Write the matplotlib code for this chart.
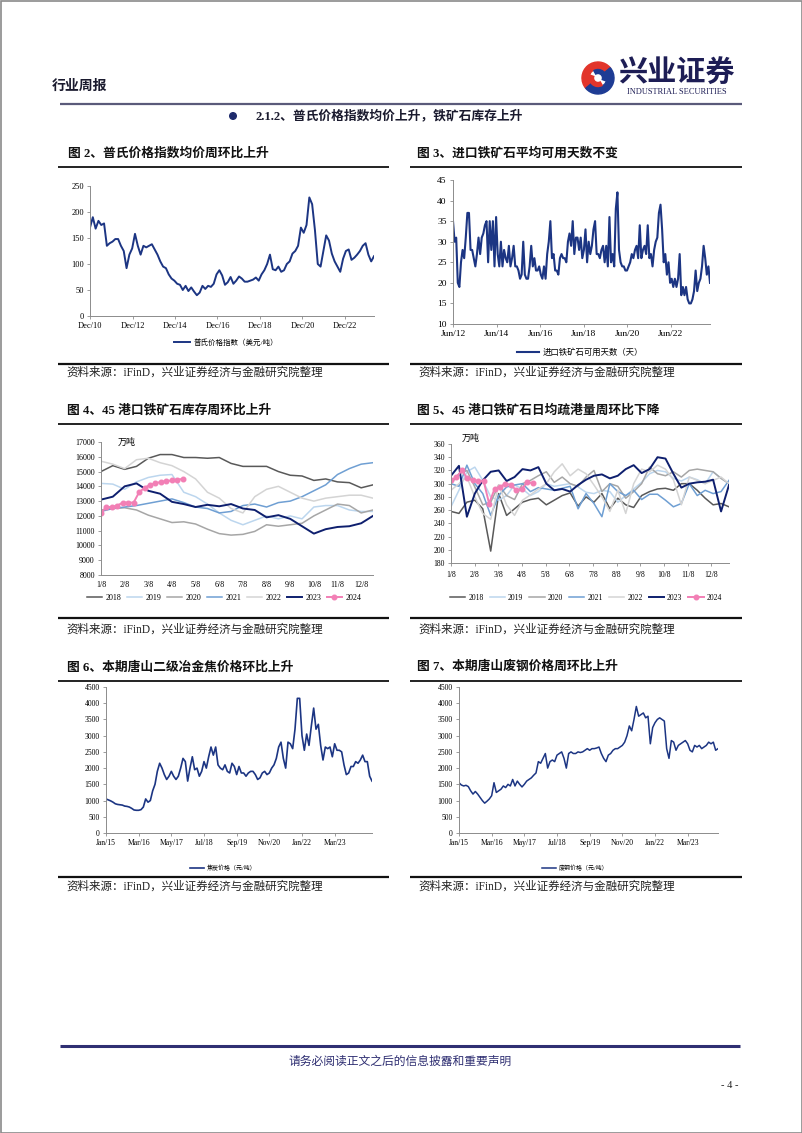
import numpy as np
import pandas as pd
import matplotlib
matplotlib.use("Agg")
import matplotlib.pyplot as plt
from matplotlib.patches import Wedge, Circle, Rectangle

plt.rcParams["font.family"] = ["Liberation Serif", "Noto Sans CJK SC"]
plt.rcParams["axes.unicode_minus"] = False

# ---- 图2 普氏价格指数 (美元/吨), Dec 2010 - Apr 2024
platts = [170, 190, 168, 183, 175, 178, 135, 140, 143, 148, 148, 135, 125, 92, 118, 130,
          158, 135, 118, 135, 132, 135, 138, 128, 118, 105, 95, 92, 80, 72, 68, 62, 60,
          50, 58, 48, 55, 47, 40, 45, 58, 52, 58, 56, 62, 80, 88, 78, 60, 65, 75, 62, 68,
          76, 72, 66, 66, 68, 70, 74, 68, 80, 88, 100, 118, 90, 88, 95, 85, 88, 100, 105,
          120, 125, 135, 170, 160, 175, 228, 215, 165, 100, 95, 125, 155, 145, 120, 105,
          95, 85, 110, 125, 128, 108, 112, 118, 125, 135, 140, 118, 105, 115]
platts_dates = pd.date_range("2010-12-01", "2024-04-15", periods=len(platts))
platts_ticks = ["Dec/10", "Dec/12", "Dec/14", "Dec/16", "Dec/18", "Dec/20", "Dec/22"]
platts_tick_dates = pd.to_datetime(["2010-12-01", "2012-12-01", "2014-12-01", "2016-12-01",
                                    "2018-12-01", "2020-12-01", "2022-12-01"])

# ---- 图3 进口铁矿石可用天数 (天), Jun 2012 - Mar 2024
days = [35, 30, 31, 20, 19, 25, 28, 26, 31, 37, 37, 28, 28, 26, 24, 27, 31, 27, 31, 32,
        34, 35, 25, 35, 28, 35, 24, 36, 27, 24, 30, 24, 28, 26, 25, 29, 24, 26, 29, 24,
        24, 23, 21, 22, 30, 22, 21, 21, 24, 29, 24, 26, 23, 23, 24, 22, 21, 24, 21, 27,
        30, 35, 26, 27, 23, 23, 22, 26, 27, 26, 26, 25, 30, 32, 29, 35, 27, 31, 31, 28,
        31, 26, 28, 33, 25, 30, 27, 29, 33, 35, 27, 27, 26, 28, 29, 25, 29, 24, 36, 25,
        27, 24, 38, 42, 28, 25, 24, 24, 23, 23, 24, 25, 27, 26, 28, 29, 26, 34, 26, 28,
        29, 27, 34, 26, 27, 24, 28, 30, 31, 37, 39, 33, 25, 27, 22, 25, 20, 21, 19, 21,
        19, 21, 27, 17, 19, 17, 19, 16, 15, 15, 16, 18, 23, 18, 20, 21, 24, 29, 26, 22,
        24, 20]
days_dates = pd.date_range("2012-06-01", "2024-03-20", periods=len(days))
days_ticks = ["Jun/12", "Jun/14", "Jun/16", "Jun/18", "Jun/20", "Jun/22"]
days_tick_dates = pd.to_datetime(["2012-06-01", "2014-06-01", "2016-06-01", "2018-06-01",
                                  "2020-06-01", "2022-06-01"])

# ---- 图4 45港口铁矿石库存 (万吨), half-month steps from 1/8
month_labels = ["1/8", "2/8", "3/8", "4/8", "5/8", "6/8", "7/8", "8/8", "9/8", "10/8", "11/8", "12/8"]
years = ["2018", "2019", "2020", "2021", "2022", "2023", "2024"]
stock_2018 = [15000, 15400, 15150, 15350, 15900, 16150, 16150, 15950, 15950, 15900, 15950, 15550,
              15350, 15350, 15350, 15000, 14750, 14700, 14400, 14500, 14300, 14250, 13900, 14100]
stock_2019 = [14200, 14150, 13800, 14300, 14600, 14750, 14800, 13600, 13300, 12800, 12200, 11700,
              11400, 11700, 12000, 11800, 12000, 11800, 12600, 12700, 12700, 12400, 12300, 12300]
stock_2020 = [12400, 12500, 12550, 12400, 12050, 11800, 11550, 11600, 11450, 11100, 10800, 10700,
              10750, 10950, 11400, 11300, 11400, 11500, 12000, 12400, 12800, 12700, 12200, 12400]
stock_2021 = [12300, 12500, 12600, 12700, 12850, 13000, 13150, 12900, 12600, 12500, 12200, 12300,
              12700, 12800, 12600, 12900, 13000, 13300, 13700, 14100, 14800, 15200, 15500, 15600]
stock_2022 = [15700, 15500, 15200, 15800, 15900, 15600, 15400, 15000, 14500, 13600, 13200, 12500,
              12200, 13300, 13800, 14000, 13600, 13200, 13000, 13200, 13300, 13400, 13400, 13200]
stock_2023 = [13100, 13300, 14000, 14200, 13700, 13500, 12950, 12800, 12600, 12750, 12650, 12800,
              12500, 12400, 11900, 12050, 11800, 11300, 10800, 11100, 11250, 11300, 11500, 12000]
stock_2024 = [12200, 12600, 12600, 12700, 12900, 12900, 12900, 13600, 13900, 14100, 14200, 14300,
              14350, 14400, 14450, 14500]  # weekly

# ---- 图5 45港口日均疏港量 (万吨), 36 steps over the year
ship_2018 = [258, 255, 272, 275, 262, 198, 285, 252, 262, 272, 276, 278, 268, 275, 282, 286, 266, 280,
             272, 285, 262, 278, 268, 264, 282, 288, 292, 293, 290, 300, 300, 290, 278, 268, 270, 265]
ship_2019 = [265, 290, 318, 325, 305, 280, 275, 282, 298, 292, 282, 288, 300, 296, 298, 300, 295, 287,
             285, 290, 288, 272, 282, 292, 302, 315, 320, 318, 308, 304, 310, 306, 300, 318, 308, 300]
ship_2020 = [300, 315, 320, 295, 268, 272, 298, 282, 276, 300, 305, 312, 318, 302, 310, 300, 296, 310,
             320, 288, 300, 296, 278, 288, 300, 325, 315, 312, 318, 310, 320, 322, 320, 318, 308, 300]
ship_2021 = [300, 296, 328, 300, 285, 252, 282, 295, 298, 300, 288, 294, 292, 290, 293, 296, 262, 285,
             270, 250, 300, 288, 282, 290, 276, 284, 284, 275, 265, 270, 300, 282, 290, 285, 288, 305]
ship_2022 = [290, 300, 310, 280, 255, 246, 298, 268, 252, 275, 283, 292, 300, 318, 330, 312, 322, 315,
             298, 280, 258, 290, 255, 300, 322, 318, 328, 322, 306, 268, 310, 305, 300, 305, 310, 300]
ship_2023 = [312, 327, 250, 285, 305, 318, 320, 304, 310, 322, 320, 325, 300, 290, 292, 288, 298, 306,
             312, 314, 308, 312, 322, 328, 316, 322, 340, 338, 315, 294, 300, 302, 303, 306, 258, 298]
ship_2024 = [305, 310, 320, 308, 305, 304, 304, 270, 292, 295, 300, 298, 290, 292, 302, 301]  # weekly

# ---- 图6 唐山二级冶金焦价格 (元/吨), monthly from Jan 2015
coke = [1050, 1020, 990, 950, 900, 880, 870, 860, 830, 820, 800, 760, 710, 700, 700, 720, 800, 1050,
        950, 1000, 1300, 1500, 1900, 2150, 2000, 1800, 1650, 1750, 1900, 1750, 1650, 1750, 2000, 2300,
        2200, 1600, 2000, 2350, 1950, 2000, 1750, 1900, 2200, 2000, 2350, 2650, 2400, 2650, 2100, 2000,
        1950, 2100, 1900, 1850, 2150, 2050, 1800, 2050, 1850, 1850, 1750, 1850, 1900, 1900, 1800, 1650,
        1700, 1850, 1900, 1800, 1850, 2000, 2100, 2300, 2650, 2800, 2300, 2000, 2800, 2750, 2600, 3200,
        4150, 4150, 3000, 2550, 3050, 2700, 3300, 3850, 3200, 3350, 2700, 2250, 2650, 2600, 2650, 2350,
        2750, 2550, 2550, 2500, 2100, 1800, 1850, 2050, 2050, 2200, 2150, 2250, 2400, 2200, 2200, 1750,
        1600]

# ---- 图7 唐山废钢价格 (元/吨), monthly from Jan 2015
scrap = [1550, 1480, 1450, 1470, 1430, 1300, 1200, 1280, 1200, 1100, 1000, 920, 980, 1050, 1150, 1550,
         1250, 1300, 1350, 1450, 1400, 1500, 1450, 1650, 1450, 1600, 1500, 1420, 1500, 1600, 1650, 1700,
         1780, 1850, 2200, 2150, 2300, 2450, 2000, 2200, 2250, 2200, 2400, 2450, 2500, 2300, 2000, 2450,
         2500, 2450, 2450, 2500, 2480, 2500, 2550, 2600, 2550, 2600, 2600, 2620, 2650, 2450, 2300, 2200,
         2400, 2450, 2550, 2600, 2600, 2650, 2700, 2800, 3000, 3300, 3150, 3500, 3900, 3600, 3650, 3700,
         3550, 3600, 2750, 3250, 3400, 3500, 3550, 3500, 3450, 2600, 2300, 2850, 2800, 2550, 2700, 2750,
         2800, 2850, 2750, 2550, 2500, 2700, 2650, 2700, 2600, 2650, 2700, 2800, 2750, 2800, 2550, 2600]
price_ticks = ["Jan/15", "Mar/16", "May/17", "Jul/18", "Sep/19", "Nov/20", "Jan/22", "Mar/23"]

NAVY = "#1c3583"
DARK_NAVY = "#0e1f6e"
year_colors = ["#595959", "#bcd6ee", "#a6a6a6", "#6f9fd3", "#d4d4d4", DARK_NAVY, "#f27fb5"]
AXIS_GRAY = "#8c8c8c"

W, H = 802, 1133
fig = plt.figure(figsize=(W / 100, H / 100), dpi=100)
page = fig.add_axes([0, 0, 1, 1])
page.set_xlim(0, W)
page.set_ylim(H, 0)
page.axis("off")


def chart_axes(x0, y0, x1, y1, size):
    ax = fig.add_axes([x0 / W, 1 - y1 / H, (x1 - x0) / W, (y1 - y0) / H])
    ax.set_facecolor("none")
    for s in ("top", "right"):
        ax.spines[s].set_visible(False)
    for s in ("left", "bottom"):
        ax.spines[s].set_color(AXIS_GRAY)
        ax.spines[s].set_linewidth(0.7)
    ax.tick_params(direction="out", length=2.5, width=0.6, color=AXIS_GRAY,
                   labelsize=size, pad=2)
    return ax


def hline(x0, x1, y, lw, color):
    page.plot([x0, x1], [y, y], color=color, lw=lw, solid_capstyle="butt")


def legend_at(ax, handles, labels, cx, cy, size, ncol=1, hl=2.0, cs=1.0):
    ax.legend(handles, labels, loc="center", bbox_to_anchor=(cx, cy),
              bbox_transform=page.transData, frameon=False, ncol=ncol,
              prop={"family": ["Liberation Serif", "Noto Sans CJK SC"], "size": size},
              handlelength=hl, handletextpad=0.4, columnspacing=cs, borderpad=0)


# ---------------- page furniture
page.add_patch(Rectangle((0.5, 0.5), W - 1, H - 1, fill=False, ec="#8a8a8a", lw=1.2))
page.text(52, 86, "行业周报", fontsize=10, va="center", ha="left", color="#1a1a2e",
          family="Noto Sans CJK SC", weight="bold")
# logo swirl (page y axis points down, so data angle = -screen angle)
page.add_patch(Wedge((598, 78), 16, -220, -40, width=7, color="#e2352b"))
page.add_patch(Wedge((598, 78), 16, -40, 140, width=7, color="#1e3c94"))
page.add_patch(Wedge((598, 78), 8.5, 60, 200, width=4, color="#e2352b"))
page.add_patch(Wedge((598, 78), 8.5, -120, 20, width=4, color="#1e3c94"))
page.text(676, 73, "兴业证券", fontsize=21, va="center", ha="center", color="#1d1d55",
          family="Noto Sans CJK SC", weight="bold")
page.text(677, 92, "INDUSTRIAL SECURITIES", fontsize=6, va="center", ha="center",
          color="#1d1d55", family="Liberation Serif")
hline(60, 742, 104, 1.6, "#5a5a7a")
page.add_patch(Circle((233, 116), 3.3, color="#1d2a6b"))
page.text(256, 116, "2.1.2、普氏价格指数均价上升，铁矿石库存上升", fontsize=9.2,
          va="center", ha="left", weight="bold", color="#1a1a2e")

titles = [(68, 153, "图 2、普氏价格指数均价周环比上升"),
          (417, 153, "图 3、进口铁矿石平均可用天数不变"),
          (67, 410, "图 4、45 港口铁矿石库存周环比上升"),
          (417, 410, "图 5、45 港口铁矿石日均疏港量周环比下降"),
          (67, 667, "图 6、本期唐山二级冶金焦价格环比上升"),
          (417, 666, "图 7、本期唐山废钢价格周环比上升")]
for x, y, s in titles:
    page.text(x, y, s, fontsize=9.2, va="center", ha="left", weight="bold", color="#111111")

for y in (167, 424, 681):
    hline(58, 389, y, 1.3, "#111111")
    hline(410, 742, y, 1.3, "#111111")
for y, ty in ((364, 373), (618, 630), (877, 887)):
    hline(58, 389, y, 1.6, "#111111")
    hline(410, 742, y, 1.6, "#111111")
    for x in (66, 418):
        page.text(x, ty, "资料来源：iFinD，兴业证券经济与金融研究院整理", fontsize=8.3,
                  va="center", ha="left", color="#222222")

hline(60, 740, 1046, 2.2, "#2f2f72")
page.text(400, 1061, "请务必阅读正文之后的信息披露和重要声明", fontsize=8.5, va="center",
          ha="center", color="#2f2f72", family="Noto Sans CJK SC")
page.text(730, 1086, "- 4 -", fontsize=7.5, va="center", ha="center", color="#222222")

# ---------------- 图2
ax = chart_axes(90, 186, 374, 316, 6)
l2, = ax.plot(platts_dates, platts, color=NAVY, lw=1.4)
ax.set_ylim(0, 250)
ax.set_yticks(np.arange(0, 251, 50))
ax.set_xlim(platts_dates[0], platts_dates[-1])
ax.set_xticks(platts_tick_dates)
ax.set_xticklabels(platts_ticks)
legend_at(ax, [l2], ["普氏价格指数（美元/吨）"], 226, 342, 5.4, hl=2.2)

# ---------------- 图3
ax = chart_axes(453, 180, 710, 324, 6.8)
l3, = ax.plot(days_dates, days, color=NAVY, lw=1.5)
ax.set_ylim(10, 45)
ax.set_yticks(np.arange(10, 46, 5))
ax.set_xlim(days_dates[0], days_dates[-1])
ax.set_xticks(days_tick_dates)
ax.set_xticklabels(days_ticks)
legend_at(ax, [l3], ["进口铁矿石可用天数（天）"], 580, 353, 6, hl=2.6)

# ---------------- 图4
ax = chart_axes(101, 442, 373, 575, 5.8)
half_months = np.arange(24) * 0.5
week_months = np.arange(16) / 4.348
handles = []
for series, c in zip([stock_2018, stock_2019, stock_2020, stock_2021, stock_2022], year_colors[:5]):
    h, = ax.plot(half_months, series, color=c, lw=1.1)
    handles.append(h)
h, = ax.plot(half_months, stock_2023, color=year_colors[5], lw=1.4)
handles.append(h)
h, = ax.plot(week_months, stock_2024, color=year_colors[6], lw=1.4, marker="o", ms=3.3)
handles.append(h)
ax.set_ylim(8000, 17000)
ax.set_yticks(np.arange(8000, 17001, 1000))
ax.set_xlim(0, 11.5)
ax.set_xticks(np.arange(12))
ax.set_xticklabels(month_labels)
ax.tick_params(axis="x", length=0, pad=4)
page.text(118, 442, "万吨", fontsize=6.5, va="center", ha="left", family="Noto Sans CJK SC")
legend_at(ax, handles, years, 224, 598, 5.8, ncol=7, hl=1.9, cs=0.7)

# ---------------- 图5
ax = chart_axes(451, 444, 729, 563, 5.5)
grid36 = np.linspace(0, 11.75, 36)
handles = []
for series, c in zip([ship_2018, ship_2019, ship_2020, ship_2021, ship_2022], year_colors[:5]):
    h, = ax.plot(grid36, series, color=c, lw=1.1)
    handles.append(h)
h, = ax.plot(grid36, ship_2023, color=year_colors[5], lw=1.4)
handles.append(h)
h, = ax.plot(week_months, ship_2024, color=year_colors[6], lw=1.4, marker="o", ms=3.3)
handles.append(h)
ax.set_ylim(180, 360)
ax.set_yticks(np.arange(180, 361, 20))
ax.set_xlim(0, 11.75)
ax.set_xticks(np.arange(12))
ax.set_xticklabels(month_labels)
ax.tick_params(axis="x", length=2, pad=4)
page.text(462, 438, "万吨", fontsize=6.5, va="center", ha="left", family="Noto Sans CJK SC")
legend_at(ax, handles, years, 586, 598, 5.5, ncol=7, hl=2.0, cs=0.8)

# ---------------- 图6
ax = chart_axes(106, 687, 372, 833, 5.5)
l6, = ax.plot(np.arange(len(coke)), coke, color=NAVY, lw=1.2)
ax.set_ylim(0, 4500)
ax.set_yticks(np.arange(0, 4501, 500))
ax.set_xlim(0, len(coke) - 1)
ax.set_xticks(np.arange(0, 99, 14))
ax.set_xticklabels(price_ticks)
legend_at(ax, [l6], ["焦炭价格（元/吨）"], 223, 868, 4.3, hl=2.4)

# ---------------- 图7
ax = chart_axes(459, 687, 718, 833, 5.5)
l7, = ax.plot(np.arange(len(scrap)), scrap, color=NAVY, lw=1.1)
ax.set_ylim(0, 4500)
ax.set_yticks(np.arange(0, 4501, 500))
ax.set_xlim(0, len(scrap) - 1)
ax.set_xticks(np.arange(0, 99, 14))
ax.set_xticklabels(price_ticks)
legend_at(ax, [l7], ["废钢价格（元/吨）"], 575, 868, 4.3, hl=2.4)

fig.savefig("out.png", dpi=100)
